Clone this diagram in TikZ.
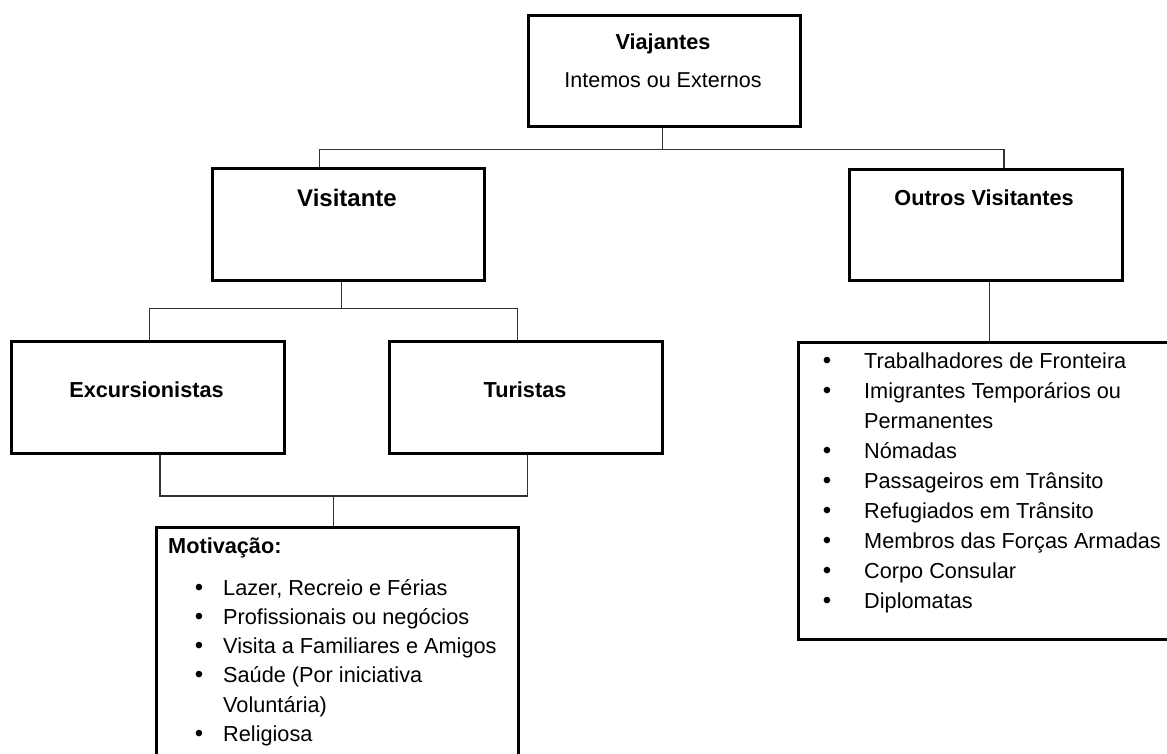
\documentclass[tikz,border=0pt]{standalone}
\usepackage{fontspec}
\setmainfont{Liberation Sans}
\begin{document}
\begin{tikzpicture}[x=1pt,y=-1pt,
  box/.style={draw=black, line width=3.2pt, rectangle, inner sep=0pt, anchor=north west},
  conn/.style={draw={rgb,255:red,50;green,50;blue,50}, line width=1.3pt},
  title/.style={inner sep=0pt, anchor=base, font=\bfseries\fontsize{21.7}{25}\selectfont},
  bigtitle/.style={inner sep=0pt, anchor=base, font=\bfseries\fontsize{24}{28}\selectfont},
  plain/.style={inner sep=0pt, anchor=base, font=\fontsize{21.5}{25}\selectfont},
  itm/.style={inner sep=0pt, anchor=base west, font=\fontsize{21.7}{25}\selectfont},
  bul/.style={inner sep=0pt, anchor=base, font=\fontsize{24}{25}\selectfont}]
\useasboundingbox (0,0) rectangle (1167,754);
\clip (0,0) rectangle (1167,754);

% boxes
\node[box, minimum width=272pt, minimum height=111pt] (via) at (527,14) {};
\node[box, minimum width=272pt, minimum height=112pt] (vis) at (211,167) {};
\node[box, minimum width=273pt, minimum height=111pt] (out) at (848,168) {};
\node[box, minimum width=273pt, minimum height=112pt] (exc) at (10,340) {};
\node[box, minimum width=273pt, minimum height=112pt] (tur) at (388,340) {};
\node[box, minimum width=362pt, minimum height=260pt] (mot) at (155,526) {};
\node[box, minimum width=420pt, minimum height=297pt] (oth) at (797,341) {};

% titles
\node[title] (viat) at (663,50) {Viajantes};
\node[plain] (vias) at (663,88) {Intemos ou Externos};
\node[bigtitle] (vist) at (347,207) {Visitante};
\node[title] (outt) at (984,206) {Outros Visitantes};
\node[title] (exct) at (146.5,397) {Excursionistas};
\node[title] (turt) at (525,397) {Turistas};

% connectors: Viajantes
\path (via.south) ++(-2,21) coordinate (j1);
\coordinate (visin) at ([xshift=-29pt]vis.north);
\coordinate (outin) at ([xshift=18pt]out.north);
\draw[conn] ([xshift=-2pt]via.south) -- (j1);
\draw[conn] (visin) |- (j1) -| (outin);

% connectors: Visitante
\coordinate (visout) at ([xshift=-7pt]vis.south);
\path (visout) ++(0,26) coordinate (j2);
\coordinate (excin) at ([xshift=1.5pt]exc.north);
\coordinate (turin) at ([xshift=-8.5pt]tur.north);
\draw[conn] (visout) -- (j2);
\draw[conn] (excin) |- (j2) -| (turin);

% connectors: to Motivação
\coordinate (excout) at ([xshift=12pt]exc.south);
\coordinate (turout) at ([xshift=1.5pt]tur.south);
\coordinate (motin) at ([xshift=-4pt]mot.north);
\path (motin) ++(0,-30) coordinate (j3);
\draw[conn] (excout) |- (j3) -| (turout);
\draw[conn] (j3) -- (motin);

% connector: Outros Visitantes
\coordinate (outout) at ([xshift=3.5pt]out.south);
\draw[conn] (outout) -- (outout |- oth.north);

% Motivação list
\node[itm, font=\bfseries\fontsize{21.7}{25}\selectfont] (motl) at (168,553) {Motivação:};
\node[bul] (mb1) at (199,595) {\textbullet};
\node[itm] (m1) at (223,595) {Lazer, Recreio e Férias};
\node[bul] (mb2) at (199,624.3) {\textbullet};
\node[itm] (m2) at (223,624.3) {Profissionais ou negócios};
\node[bul] (mb3) at (199,653.6) {\textbullet};
\node[itm] (m3) at (223,653.6) {Visita a Familiares e Amigos};
\node[bul] (mb4) at (199,682.9) {\textbullet};
\node[itm] (m4) at (223,682.9) {Saúde (Por iniciativa};
\node[itm] (m4b) at (223,712.2) {Voluntária)};
\node[bul] (mb6) at (199,741.5) {\textbullet};
\node[itm] (m6) at (223,741.5) {Religiosa};

% other visitors list
\node[bul] (ob1) at (827,368) {\textbullet};
\node[itm] (o1) at (864,368) {Trabalhadores de Fronteira};
\node[bul] (ob2) at (827,398) {\textbullet};
\node[itm] (o2) at (864,398) {Imigrantes Temporários ou};
\node[itm] (o2b) at (864,428) {Permanentes};
\node[bul] (ob4) at (827,458) {\textbullet};
\node[itm] (o4) at (864,458) {Nómadas};
\node[bul] (ob5) at (827,488) {\textbullet};
\node[itm] (o5) at (864,488) {Passageiros em Trânsito};
\node[bul] (ob6) at (827,518) {\textbullet};
\node[itm] (o6) at (864,518) {Refugiados em Trânsito};
\node[bul] (ob7) at (827,548) {\textbullet};
\node[itm] (o7) at (864,548) {Membros das Forças Armadas};
\node[bul] (ob8) at (827,578) {\textbullet};
\node[itm] (o8) at (864,578) {Corpo Consular};
\node[bul] (ob9) at (827,608) {\textbullet};
\node[itm] (o9) at (864,608) {Diplomatas};
\end{tikzpicture}
\end{document}
